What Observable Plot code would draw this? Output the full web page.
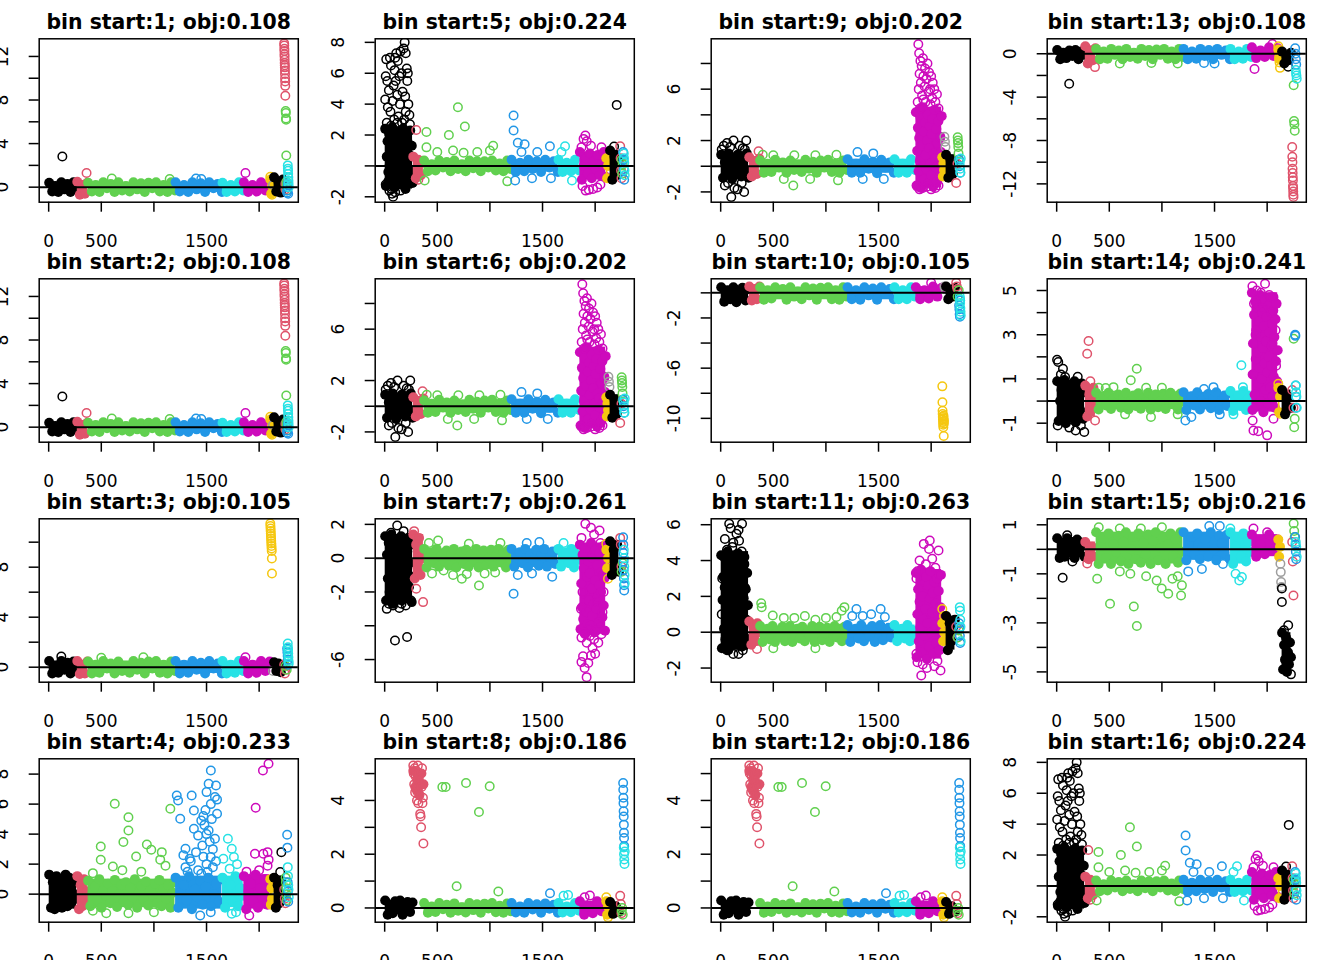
<!DOCTYPE html>
<html><head><meta charset="utf-8">
<script src="https://cdn.jsdelivr.net/npm/d3@7"></script>
<script src="https://cdn.jsdelivr.net/npm/@observablehq/plot@0.6"></script>
<style>
html,body{margin:0;padding:0;background:#fff;}
body{width:1344px;height:960px;overflow:hidden;position:relative;}
.cell{position:absolute;width:336px;height:240px;}
</style></head><body><div id="chart"></div>
<script>
// ---- shared series description (index order of the 13 coloured groups) ----
const segNames  = ["black 1","red 1","green 1","blue 1","cyan 1","magenta 1","yellow 1","gray 1","black 2","red 2","green 2","blue 2","cyan 2"];
const segColors = ["#000000","#DF536B","#61D04F","#2297E6","#28E2E5","#CD0BBC","#F5C710","#9E9E9E","#000000","#DF536B","#61D04F","#2297E6","#28E2E5"];
const segStart  = [5, 272, 375, 1206, 1652, 1855, 2106, 2126, 2142, 2238, 2252, 2266, 2272];
const segEnd    = [265, 368, 1200, 1646, 1848, 2100, 2122, 2136, 2226, 2250, 2262, 2276, 2281];
const xDomain   = [-90, 2372];
const xTicks    = [0, 500, 1000, 1500, 2000];
const xTickText = ["0", "500", "", "1500", ""];
const binStart  = [1,2,3,4,5,6,7,8,9,10,11,12,13,14,15,16];
const objValues = ["0.108","0.108","0.105","0.233","0.224","0.202","0.261","0.186","0.202","0.105","0.263","0.186","0.108","0.241","0.216","0.224"];

// ---- panel A (bin start 1 and 2) ----
const yDomA = [-1.38, 13.62];
const yTicksA = [0,2,4,6,8,10,12];
const yLabA = ["0","","4","","8","","12"];
const coreA = [
 [0.4,-0.4,0.1,-0.45,0.45,-0.2,0.3,-0.45,0.45,-0.1],
 [0.5,-0.7,0.2,-0.6,0.4],
 [0.4,-0.4,0.2,-0.45,0.45,-0.1,0.3,-0.45,0.45,-0.3,0.1,-0.4,0.45,-0.2,0.35,-0.45,0.4,-0.1,0.45,-0.4,0.2,-0.45,0.45,-0.3],
 [0.45,-0.4,0.2,-0.45,0.45,-0.2,0.35,-0.45,0.45,-0.1,0.3,-0.45],
 [0.4,-0.45,0.2,-0.4,0.45,-0.3],
 [0.45,-0.45,0.2,-0.4,0.45,-0.3,0.4],
 [0.7,-0.6,0.1],[],
 [0.9,-0.4,0.5,-0.5,0.7],
 [],[],[],[]];
const ringA = [[],[],[],[],[],[],[0.95,-0.7],[0.2],[],
 [13.2,13.0,12.7,12.5,12.2,12.0,11.7,11.4,11.2,11.0,10.7,10.4,10.0,9.7,9.3,8.4,0.3,-0.2],
 [7.0,6.8,6.3,6.2,2.9,0.5,0.2,-0.3],
 [-0.5,-0.3,0.0,0.3,-0.6],
 [2.0,1.7,1.5,1.2,0.9,0.6,0.3,0.0]];
const outA = [[0,130,2.82],[1,360,1.3],[2,600,0.8],[2,1150,0.75],[3,1400,0.8],[3,1450,0.75],[5,1870,1.3]];

// ---- panel B (bin start 3) ----
const yDomB = [-1.2, 11.87];
const yTicksB = [0,2,4,6,8,10];
const yLabB = ["0","","4","","8",""];
const coreB = [
 [0.5,-0.5,0.1,-0.45,0.5,-0.2,0.35,-0.5,0.45,-0.1],
 [0.5,-0.55,0.2,-0.5,0.45],
 [0.45,-0.5,0.2,-0.45,0.5,-0.1,0.3,-0.5,0.45,-0.3,0.1,-0.45,0.5,-0.2,0.35,-0.5,0.45,-0.1,0.5,-0.45,0.2,-0.5,0.45,-0.3],
 [0.5,-0.5,0.2,-0.45,0.5,-0.2,0.35,-0.5,0.5,-0.1,0.3,-0.5],
 [0.5,-0.5,0.2,-0.45,0.5,-0.3],
 [0.5,-0.5,0.2,-0.45,0.5,-0.3,0.45],
 [],[],
 [0.4,-0.3,0.3,-0.4,0.2],
 [],[],[],[]];
const ringB = [[],[],[],[],[],[],
 [11.5,11.3,11.1,10.9,10.7,10.5,10.3,10.1,9.9,9.7,9.5,9.3,8.7,7.5],
 [-0.3],[],
 [0.2,-0.5,-0.2],[0.1,-0.2],[1.5,1.2,0.9,0.6,0.2],[1.9,1.6,1.4,1.1,0.8,0.5,0.3]];
const outB = [[0,120,0.85],[2,500,0.75],[2,900,0.8],[5,1870,0.8]];

// ---- panel C (bin start 4) ----
const yDomC = [-1.87, 9.02];
const yTicksC = [0,2,4,6,8];
const yLabC = ["0","2","4","6","8"];
const coreC = [
 [1.3,-0.9,0.8,-1.0,1.2,-0.5,1.0,-0.9,0.4,1.3,-0.8,1.1,-0.6,0.9,0.0,-0.3],
 [1.2,-1.0,0.6,-0.8,1.0,-0.4,0.2],
 [0.9,-0.8,0.1,0.5,-0.4,1.0,-0.9,0.3,-0.1,0.7,-0.6,0.2,0.95,-0.85,0.0,0.6,-0.5,0.8,-0.7,0.4,-0.2,1.0,-0.9,0.15,0.55,-0.35,0.85,-0.75,0.25,-0.05,0.7,-0.6,0.95,-0.8,0.35,-0.3,0.6,-0.9,0.1,0.8],
 [1.1,-0.9,0.1,0.6,-0.4,1.2,-1.0,0.3,-0.2,0.9,-0.7,0.5,1.1,-0.8,0.0,0.7,-0.5,1.0],
 [1.1,-0.9,0.2,0.6,-0.5,1.2,-0.8,0.4,-0.1],
 [1.2,-1.0,0.2,0.7,-0.5,1.3,-0.9,0.4,-0.2,1.0,-0.7,0.6],
 [1.0,-0.7,0.4,-0.3],[],
 [1.1,-0.9,0.6,-0.6,0.9,-0.2],
 [],[],[],[]];
const ringC = [[],[],[],[],[],[],[],[],[],
 [0.3,-0.3,-0.6],[1.1,0.8,0.4,0,-0.4],[3.96,3.1,0.8,0.2,-0.5],[1.8,1.2,0.6,0.3,-0.2]];
const outC = [
 [2,628,6.02],[2,758,5.13],[2,758,4.24],[2,710,3.47],[2,495,3.18],[2,495,2.29],[2,610,1.84],[2,831,2.51],[2,933,3.31],[2,975,2.96],[2,1075,2.8],[2,1156,5.69],[2,1060,2.3],[2,1110,1.9],[2,700,1.6],[2,420,1.4],[2,880,1.5],[2,547,-1.27],[2,758,-1.27],[2,1000,-1.2],[2,420,-1.1],
 [3,1541,8.24],[3,1520,7.36],[3,1590,7.24],[3,1217,6.58],[3,1359,6.58],[3,1230,6.24],[3,1250,5.02],[3,1380,5.58],[3,1500,6.8],[3,1541,6.0],[3,1580,6.47],[3,1600,6.3],[3,1600,5.36],[3,1470,5.2],[3,1380,4.36],[3,1520,4.24],[3,1420,3.9],[3,1580,3.69],[3,1460,3.24],[3,1300,3.02],[3,1340,2.36],[3,1540,2.47],[3,1300,1.8],[3,1450,1.36],[3,1500,2.0],[3,1400,2.8],[3,1560,3.0],[3,1480,4.6],[3,1500,4.0],[3,1530,3.5],[3,1470,2.5],[3,1560,1.8],[3,1510,1.5],[3,1420,1.6],[3,1590,2.2],[3,1450,4.9],[3,1490,5.6],[3,1550,5.0],[3,1350,2.2],[3,1280,2.6],[3,1320,1.5],[3,1440,-1.42],[3,1540,-1.2],
 [4,1703,3.69],[4,1740,3.02],[4,1660,2.36],[4,1760,2.47],[4,1790,2.0],[4,1720,1.7],[4,1740,-1.3],[4,1780,-1.2],
 [5,2036,8.24],[5,2089,8.69],[5,1967,5.76],[5,1960,2.69],[5,2040,2.69],[5,2080,2.8],[5,2090,2.3],[5,2080,1.9],[5,1906,-1.42],[5,2000,1.6],[5,1880,1.5],
 [8,2211,2.8],[8,2200,1.47]];

// ---- panel D (bin start 5 and 16) ----
const yDomD = [-2.35, 8.23];
const yTicksD = [-2,0,2,4,6,8];
const yLabD = ["-2","","2","4","6","8"];
const coreD = [
 [2.4,-1.3,0.6,1.6,-0.4,2.1,0.1,-1.0,1.2,2.5,-0.2,0.8,-1.4,1.9,0.3,-0.8,1.4,2.2,-0.1,0.9,-1.2,1.7,0.4,2.4,-0.6,1.1,-1.5,2.0,0.0,1.5,-0.9,0.7,2.3,-0.3,1.3,-1.1],
 [0.6,-0.8,0.4,-0.6,0.2],
 [0.35,-0.35,0.1,-0.3,0.35,-0.1,0.25,-0.35,0.35,-0.2,0.1,-0.35,0.35,-0.15,0.3,-0.35,0.3,-0.1,0.35,-0.3,0.15,-0.35,0.35,-0.2],
 [0.4,-0.4,0.2,-0.35,0.4,-0.2,0.3,-0.4,0.4,-0.1,0.3,-0.4],
 [0.4,-0.4,0.2,-0.35,0.4,-0.3],
 [0.9,-0.9,0.0,0.5,-0.5,0.8,-0.8,0.3,-0.2,0.7,-0.6,0.1,0.9,-0.7],
 [0.5,-0.8,0.0],[],
 [1.0,-0.9,0.6,-0.6,0.3],
 [],[],[],[]];
const ringD = [[],[],[],[],[],[],[],[],[],
 [1.27,0.5,-0.3,-0.8],[0.4,-0.5,0.1],[0.9,0.4,-0.2,-0.9],[0.8,0.5,0.2,-0.3,-0.6]];
const outD = [
 [0,10,5.8],[0,15,6.9],[0,25,5.5],[0,30,3.8],[0,20,2.8],[0,40,4.9],[0,50,7.0],[0,60,6.5],[0,70,-1.8],[0,80,-2.0],[0,55,3.5],[0,75,4.2],[0,85,5.2],[0,95,6.2],[0,100,7.0],[0,110,7.3],[0,120,4.6],[0,130,3.2],[0,140,5.8],[0,150,7.4],[0,160,6.0],[0,170,4.8],[0,180,7.6],[0,190,8.0],[0,200,7.3],[0,210,6.3],[0,220,6.0],[0,225,4.0],[0,215,5.5],[0,200,3.5],[0,185,3.0],[0,165,2.8],[0,145,4.0],[0,125,6.8],[0,105,5.5],[0,90,3.0],[0,65,-1.5],[0,45,-1.6],[0,35,-1.0],[0,240,2.7],[0,250,-1.0],[0,5,4.3],[0,195,4.5],[0,235,3.3],[0,10,-1.2],[0,100,-1.7],[0,150,-1.6],[0,120,2.8],[0,60,2.6],
 [1,300,2.33],[1,320,-0.9],
 [2,397,2.2],[2,397,1.2],[2,610,2.0],[2,696,3.8],[2,762,2.55],[2,1031,1.3],[2,650,1.0],[2,880,0.9],[2,500,0.9],[2,380,-0.95],[2,1165,-1.0],[2,1000,1.0],[2,750,0.85],
 [3,1225,3.26],[3,1225,2.29],[3,1265,1.5],[3,1330,1.4],[3,1570,1.27],[3,1300,0.9],[3,1450,0.9],[3,1240,-0.95],[3,1400,-0.8],[3,1580,-0.8],
 [4,1714,1.27],[4,1780,-0.95],[4,1680,0.9],
 [5,1907,1.97],[5,1890,1.75],[5,1920,1.6],[5,1870,1.2],[5,1880,-1.3],[5,1910,-1.6],[5,1940,-1.55],[5,1980,-1.5],[5,2020,-1.4],[5,2060,1.2],[5,2050,-1.2],[5,1960,1.3],
 [8,2205,3.95],[8,2180,1.25]];

// ---- panel E (bin start 6 and 9) ----
const yDomE = [-2.8, 9.92];
const yTicksE = [-2,0,2,4,6,8];
const yLabE = ["-2","","2","","6",""];
const coreE = [
 [0.9,-0.9,0.3,-0.4,1.0,0.0,-1.0,0.6,-0.6,0.9,0.2,-0.8,0.5,-0.3,1.0,-0.9],
 [0.7,-0.8,0.4,-0.6,0.6],
 [0.45,-0.5,0.2,-0.45,0.5,-0.1,0.3,-0.5,0.45,-0.3,0.1,-0.45,0.5,-0.2,0.35,-0.5,0.45,-0.1,0.5,-0.45,0.2,-0.5,0.45,-0.3],
 [0.55,-0.5,0.2,-0.5,0.55,-0.2,0.35,-0.55,0.5,-0.1,0.3,-0.5],
 [0.55,-0.5,0.2,-0.5,0.55,-0.3],
 [4.2,-1.5,1.2,3.0,-0.4,2.2,0.4,3.8,-1.7,1.6,4.6,0.0,2.7,-1.0,3.4,0.9,-0.2,2.0,4.0,-1.3,1.4,3.1,0.2,-0.7,2.5,3.7,-1.6,1.0,4.4,0.6,-0.1,2.9,-1.2,1.8,3.5,0.3,-0.8,2.3,1.1,3.9],
 [0.7,-0.8,0.2,-0.3],[],
 [0.9,-0.9,0.5,-0.6,0.2],
 [],[],[],[]];
const ringE = [[],[],[],[],[],[],[],[2.3,1.9,1.5],[],
 [-1.3,0.2],[2.26,2.0,1.8,1.5,1.0,0.5],[0.5,0,-0.5],[0.3,-0.2,-0.5,0.6]];
const outE = [
 [0,122,2.0],[0,243,2.0],[0,30,1.6],[0,60,1.8],[0,90,1.5],[0,180,1.6],[0,210,1.4],[0,101,-2.4],[0,223,-2.0],[0,160,-1.8],[0,40,-1.5],[0,130,-1.7],[0,200,-1.3],[0,10,1.3],[0,230,1.3],[0,70,-1.3],
 [1,360,1.17],
 [2,690,-1.5],[2,1115,-1.1],[2,500,0.85],[2,700,0.85],[2,900,0.85],[2,1100,0.9],[2,400,0.9],[2,600,-1.0],[2,850,-1.0],
 [3,1300,1.1],[3,1450,1.0],[3,1550,-1.0],[3,1350,-1.0],
 [5,1872,5.0],[5,1878,9.5],[5,1882,6.0],[5,1886,8.8],[5,1890,7.2],[5,1894,4.5],[5,1898,8.2],[5,1902,6.5],[5,1910,7.8],[5,1914,5.5],[5,1922,8.4],[5,1926,7.0],[5,1938,6.2],[5,1942,7.6],[5,1946,5.0],[5,1955,6.8],[5,1965,8.0],[5,1975,5.8],[5,1980,7.3],[5,1990,6.0],[5,1995,4.8],[5,2000,7.0],[5,2010,5.3],[5,2015,6.5],[5,2030,6.0],[5,2040,5.0],[5,2055,5.6],[5,2070,4.5],[5,1925,5.2],[5,1870,-1.6],[5,1890,-1.8],[5,1920,-1.7],[5,1960,-1.6],[5,2000,-1.8],[5,2040,-1.7],[5,2070,-1.5],[5,2085,2.2],[5,2090,0.5]];

// ---- panel F (bin start 7) ----
const yDomF = [-7.34, 2.33];
const yTicksF = [-6,-4,-2,0,2];
const yLabF = ["-6","","-2","0","2"];
const coreF = [
 [1.3,-2.5,0.2,-1.2,0.9,-2.0,-0.4,1.4,-1.6,-2.7,0.5,-0.8,1.1,-2.2,-0.1,0.7,-1.9,-1.0,1.3,-2.5,0.1,-0.6,1.0,-1.4,-2.3,0.4,1.2,-1.7,-0.3,0.8,-2.6,-1.1],
 [1.4,-1.2,0.8,-0.6,1.2,-1.0,0.3,0.0],
 [0.55,-0.55,0.0,0.35,-0.3,0.55,-0.5,0.15,-0.15,0.45,-0.45,0.25,0.55,-0.55,0.05,0.4,-0.35,0.5,-0.5,0.2,-0.1,0.55,-0.55,0.3,0.45,-0.4,0.0,0.5,-0.5,0.15,0.55,-0.25,0.35,-0.55,0.5,-0.05],
 [0.55,-0.5,0.0,0.35,-0.3,0.55,-0.55,0.2,-0.1,0.5,-0.45,0.25,0.55,-0.5,0.05,0.4,-0.35,0.5],
 [0.55,-0.5,0.1,0.35,-0.3,0.55,-0.55,0.2,-0.1],
 [0.8,-4.2,-1.5,-2.9,0.2,-3.6,-0.6,-2.1,-4.5,0.6,-3.2,-1.1,-3.9,-0.2,-2.5,-0.9,-4.0,0.9,-1.8,-3.4,0.0,-2.7,-4.4,-1.3,0.5,-3.0,-0.4,-2.3,-3.8,-1.6,0.3,-4.1,-2.0,-0.8,-3.5,0.7,-2.8,-1.2,-4.3,-0.1],
 [0.5,-0.6,0.0],[],
 [1.0,-1.0,0.5,-0.5,0.8,-0.8],
 [],[],[],[]];
const ringF = [[],[],[],[],[],[],[0.85,-1.22],[],[],
 [1.2,0.8,-0.5],[-0.8,-0.3],[1.24,0.8,0.3,-0.2,-0.7,-1.2,-1.6,-1.91],[0.5,0,-0.5,-1.0,-1.5]];
const outF = [
 [0,119,1.93],[0,20,-3.0],[0,140,-2.95],[0,98,-4.87],[0,213,-4.67],[0,60,1.5],[0,180,1.6],[0,200,-2.8],[0,80,-2.8],[0,250,-2.5],[0,40,-2.7],[0,160,-2.7],
 [1,300,-1.81],[1,365,-2.6],[1,280,1.6],
 [2,508,1.05],[2,560,-0.73],[2,733,-1.22],[2,896,-1.62],[2,650,-1.0],[2,780,-0.93],[2,950,-0.9],[2,1050,-0.85],[2,420,0.9],[2,800,0.85],[2,1100,0.9],[2,450,-0.9],
 [3,1225,-2.11],[3,1265,-1.0],[3,1592,-1.1],[3,1470,0.95],[3,1350,0.9],[3,1400,-0.9],
 [4,1700,0.9],
 [5,1907,2.03],[5,1960,1.8],[5,2042,1.64],[5,1990,1.4],[5,1919,-7.04],[5,1870,-6.15],[5,1960,-5.76],[5,2000,-5.66],[5,2030,-5.0],[5,1900,-6.5],[5,1885,-5.8],[5,1935,-6.2],[5,1870,-4.7],[5,2060,-4.5],[5,1990,-4.8],[5,1920,-5.0],[5,2070,-3.2],[5,2080,-2.0],[5,1865,-3.0],[5,2075,-1.0],[5,1870,1.2],[5,2010,-4.3],[5,1950,-4.6],[5,1975,-5.3],[5,1940,-4.2],[5,2040,-3.8],[5,1895,-4.4],[5,2020,-2.6],[5,1880,-2.0],[5,2050,0.9]];

// ---- panel G (bin start 8 and 12) ----
const yDomG = [-0.53, 5.55];
const yTicksG = [0,1,2,3,4,5];
const yLabG = ["0","","2","","4",""];
const coreG = [
 [0.28,-0.25,0.1,-0.2,0.25,-0.05,0.28,-0.25,0.05,0.22,-0.15,0.2],
 [5.1,4.5,4.8,4.2,5.0,4.6],
 [0.18,-0.18,0.05,-0.15,0.18,-0.05,0.12,-0.18,0.17,-0.1,0.03,-0.17,0.18,-0.08,0.14,-0.18,0.16,-0.02,0.18,-0.16,0.08,-0.18,0.17,-0.12],
 [0.18,-0.17,0.05,-0.18,0.18,-0.06,0.14,-0.18,0.17,-0.03,0.12,-0.18],
 [0.18,-0.17,0.05,-0.16,0.18,-0.1],
 [0.25,-0.25,0.05,-0.2,0.25,-0.12,0.2],
 [0.25,-0.25,0.05],[],
 [0.22,-0.22,0.05,-0.15],
 [],[],[],[]];
const ringG = [[],
 [5.3,5.0,4.6,5.2,4.3,4.9,5.1,4.4,4.0,4.7,5.3,3.9,4.8,4.2,5.0,3.5,3.4,3.0,4.5,5.2,3.9,4.1,2.4],
 [],[],[],[],[0.4,-0.35],[],[],
 [0.45,0.15,-0.2],[-0.1,0.0,-0.25],[4.65,4.4,4.1,3.9,3.6,3.4,3.1,2.8,2.6,2.3],[2.25,2.0,1.8,1.64,2.1]];
const outG = [[2,548,4.5],[2,580,4.5],[2,773,4.65],[2,998,4.53],[2,896,3.57],[2,684,0.81],[2,1080,0.61],
 [3,1571,0.55],[4,1743,0.48],[4,1700,0.45],[5,1950,0.46],[5,1900,0.4]];

// ---- panel H (bin start 10) ----
const yDomH = [-11.9, 1.12];
const yTicksH = [-10,-8,-6,-4,-2,0];
const yLabH = ["-10","","-6","","-2",""];
const coreH = [
 [0.45,-0.7,0.2,-0.5,0.45,-0.75,0.1,0.4,-0.6,0.3],
 [0.5,-0.6,0.3,-0.5,0.5],
 [0.45,-0.55,0.2,-0.45,0.45,-0.1,0.3,-0.55,0.45,-0.3,0.1,-0.5,0.45,-0.2,0.35,-0.55,0.4,-0.1,0.45,-0.5,0.2,-0.55,0.45,-0.3],
 [0.45,-0.5,0.2,-0.55,0.45,-0.2,0.35,-0.55,0.45,-0.1,0.3,-0.5],
 [0.45,-0.5,0.2,-0.5,0.45,-0.3],
 [0.45,-0.5,0.2,-0.45,0.5,-0.3,0.4],
 [],[],
 [0.5,-0.5,0.2,-0.3,0.4],
 [],[],[],[]];
const ringH = [[],[],[],[],[],[],
 [-7.45,-8.72,-9.39,-9.65,-9.9,-10.1,-10.3,-10.5,-10.7,-9.8,-10.0,-11.4,-10.4,-10.2],
 [0.5,0.3],[],
 [0.8,0.5,0.3],[-0.3,0.2],[-1.0,-1.3,-1.7,-1.9,-0.6],[-0.3,-0.5,-0.8,-1.2,-1.5,-1.8]];
const outH = [[5,2000,0.8]];

// ---- panel I (bin start 11) ----
const yDomI = [-2.79, 6.33];
const yTicksI = [-2,0,2,4,6];
const yLabI = ["-2","0","2","4","6"];
const coreI = [
 [4.3,-0.9,1.8,3.1,0.2,2.5,-0.4,3.8,1.0,4.5,-1.0,2.0,0.6,3.4,-0.2,2.8,1.4,4.1,-0.7,2.2,0.9,3.6,0.0,1.6,4.4,-0.5,2.7,1.2,3.9,0.4,-0.8,3.0,1.9,4.2,-0.3,2.4,0.7,3.3,1.5,-0.6],
 [0.6,-0.7,0.3,-0.5,0.5,0.0],
 [0.35,-0.55,-0.1,0.2,-0.4,0.35,-0.55,0.05,-0.25,0.3,-0.5,0.1,0.35,-0.55,-0.15,0.2,-0.35,0.3,-0.5,0.0,-0.2,0.35,-0.55,0.15,0.3,-0.45,-0.05,0.25,-0.55,0.1,0.35,-0.3,0.2,-0.5,0.3,-0.1],
 [0.4,-0.55,-0.05,0.2,-0.35,0.4,-0.5,0.1,-0.2,0.35,-0.55,0.15,0.4,-0.45,0.0,0.25,-0.3,0.35],
 [0.4,-0.5,0.0,0.2,-0.35,0.4,-0.5,0.1,-0.2],
 [3.3,-1.4,1.0,2.4,-0.5,1.7,0.3,3.5,-1.1,2.0,0.7,2.9,-0.2,1.3,3.1,-1.5,0.5,2.6,-0.8,1.9,3.4,0.0,1.1,2.2,-1.2,2.8,0.4,1.6,-0.6,3.0,0.9,2.3,-1.0,1.4,3.2,0.1],
 [0.5,-0.5,0.0],[],
 [0.9,-1.0,0.5,-0.5,0.2,0.7],
 [],[],[],[]];
const ringI = [[],[],[],[],[],[],[1.3,0.9],[],[],
 [0.3,-0.3],[-0.3,0.1],[0.5,0.2,-0.2,-0.6],[1.4,1.2,0.7,0.3,-0.5]];
const outI = [
 [0,81,6.05],[0,203,6.05],[0,150,5.5],[0,120,5.0],[0,175,5.1],[0,110,4.75],[0,60,4.6],[0,30,4.2],[0,200,4.5],[0,225,3.8],[0,230,2.5],[0,15,3.0],[0,40,5.2],[0,95,5.8],[0,170,5.7],[0,220,1.5],[0,10,1.0],[0,120,-1.21],[0,170,-1.21],[0,60,-1.0],[0,210,-1.0],[0,30,-0.9],
 [1,345,-0.93],
 [2,385,1.62],[2,390,1.4],[2,495,0.93],[2,1176,1.4],[2,1150,1.2],[2,700,0.8],[2,800,0.9],[2,600,0.8],[2,900,0.7],[2,1000,0.8],[2,1100,0.85],[2,900,-0.9],[2,500,-0.9],
 [3,1290,1.3],[3,1520,1.3],[3,1430,1.0],[3,1350,0.9],[3,1560,0.85],[3,1250,0.9],
 [5,1987,5.12],[5,1930,4.93],[5,1980,4.65],[5,2070,4.56],[5,1890,4.0],[5,1950,3.8],[5,2040,3.6],[5,1870,3.4],[5,2010,4.1],[5,2080,3.2],[5,1860,3.0],[5,1906,-2.42],[5,1870,-1.68],[5,2089,-2.14],[5,1960,-2.0],[5,2030,-1.9],[5,2060,-1.6],[5,1860,-1.2],[5,1920,-1.8]];

// ---- panel J (bin start 13) ----
const yDomJ = [-13.69, 1.38];
const yTicksJ = [-12,-10,-8,-6,-4,-2,0];
const yLabJ = ["-12","","-8","","-4","","0"];
const coreJ = [
 [0.35,-0.5,0.1,-0.4,0.3,-0.2,0.35,-0.5,0.2,-0.1],
 [0.7,-0.9,0.3,-0.6,0.5],
 [0.45,-0.5,0.2,-0.45,0.45,-0.1,0.3,-0.5,0.45,-0.3,0.1,-0.45,0.45,-0.2,0.35,-0.5,0.4,-0.1,0.45,-0.45,0.2,-0.5,0.45,-0.3],
 [0.45,-0.5,0.2,-0.45,0.45,-0.2,0.35,-0.5,0.45,-0.1,0.3,-0.5],
 [0.45,-0.5,0.2,-0.45,0.45,-0.3],
 [0.6,-0.4,0.3,-0.3,0.6,-0.2,0.5],
 [0.4,-0.5,0.0],[],
 [0.2,-0.9,-0.3,-0.6,0.1],
 [],[],[],[]];
const ringJ = [[],[],[],[],[],[],[0.7,0.3,-0.3,-0.8,-1.3],[],[],
 [-8.6,-9.5,-10.0,-10.6,-11.0,-11.4,-11.7,-12.2,-12.4,-12.7,-13.0,-13.2],
 [-2.9,-6.2,-6.5,-7.1],[0.5,0,-0.5,-1.0],[-1.5,-1.8,-2.0,-2.3]];
const outJ = [[0,119,-2.77],[1,364,-1.23],[2,600,-0.9],[2,900,-0.85],[2,1150,-0.9],[3,1400,-0.85],[3,1500,-0.9],[5,1880,-1.4],[5,2050,0.9],[8,2200,-1.2]];

// ---- panel K (bin start 14) ----
const yDomK = [-1.86, 5.53];
const yTicksK = [-1,0,1,2,3,4,5];
const yLabK = ["-1","","1","","3","","5"];
const coreK = [
 [0.9,-0.9,0.0,0.5,-0.5,0.95,-1.0,0.3,-0.2,0.7,-0.7,0.2,0.9,-0.95,0.1,0.6,-0.4,0.8,-0.8,0.4],
 [0.7,-0.7,0.3,-0.4,0.6,0.0],
 [0.38,-0.38,0.0,0.22,-0.2,0.38,-0.36,0.1,-0.1,0.3,-0.3,0.15,0.38,-0.38,0.02,0.25,-0.22,0.35,-0.35,0.12,-0.05,0.38,-0.38,0.2,0.3,-0.28,0.0,0.33,-0.36,0.1,0.38,-0.15,0.22,-0.38,0.34,-0.02],
 [0.4,-0.4,0.0,0.22,-0.2,0.4,-0.38,0.1,-0.1,0.32,-0.32,0.15,0.4,-0.4,0.03,0.25,-0.22,0.36],
 [0.45,-0.45,0.05,0.25,-0.22,0.45,-0.4,0.15,-0.1],
 [4.9,-0.4,2.6,1.2,3.9,0.3,4.5,1.9,3.2,-0.2,2.2,4.2,0.8,3.6,1.5,4.8,0.0,2.9,1.0,4.0,2.4,-0.5,3.4,1.7,4.6,0.5,2.7,3.8,1.3,-0.1,4.3,2.0,3.1,0.6,4.7,1.6,2.5,3.5,0.2,4.1,1.1,2.9,-0.3,3.7,1.8,4.4,0.9,2.3],
 [0.6,-0.5,0.2],[],
 [0.5,-0.6,0.2,-0.3],
 [],[],[],[]];
const ringK = [[],[],[],[],[],[],[0.78,-0.57],[],[],
 [0.5,-0.3],[2.82,-1.18,-0.8],[3.0,2.95,0.7,0.2,-0.3],[0.7,0.4,0.2,-0.3]];
const outK = [
 [0,4,1.87],[0,15,1.77],[0,60,1.46],[0,80,1.09],[0,10,-1.1],[0,262,-1.4],[0,180,-1.33],[0,120,-1.2],[0,40,1.2],[0,200,1.1],[0,230,-1.1],
 [1,303,2.72],[1,290,2.14],[1,320,0.9],[1,365,-0.88],
 [2,761,1.46],[2,704,0.94],[2,466,0.59],[2,896,-0.72],[2,540,0.63],[2,850,0.6],[2,1000,0.6],[2,650,-0.6],[2,1150,-0.6],[2,400,0.6],
 [3,1223,-0.88],[3,1280,-0.72],[3,1490,0.63],[3,1400,0.55],[3,1550,-0.6],
 [4,1755,1.62],[4,1770,0.63],[4,1680,-0.6],
 [5,1860,5.19],[5,1980,5.31],[5,1900,5.0],[5,1940,4.9],[5,2020,4.8],[5,2060,4.7],[5,1875,4.4],[5,1960,4.2],[5,2040,4.0],[5,2080,3.2],[5,1890,3.0],[5,2050,2.6],[5,2085,1.6],[5,1862,1.2],[5,1870,-1.33],[5,1915,-1.36],[5,2000,-1.55],[5,1862,-0.88],[5,2060,-0.8]];

// ---- panel L (bin start 15) ----
const yDomL = [-5.42, 1.245];
const yTicksL = [-5,-4,-3,-2,-1,0,1];
const yLabL = ["-5","","-3","","-1","","1"];
const coreL = [
 [0.45,-0.35,0.2,-0.3,0.45,-0.1,0.3,-0.35,0.4,0.0,0.2,-0.3],
 [0.3,-0.4,0.1,-0.3],
 [0.7,-0.6,0.1,0.45,-0.35,0.65,-0.6,0.2,-0.1,0.55,-0.5,0.3,0.7,-0.6,0.0,0.5,-0.4,0.65,-0.55,0.25,-0.2,0.6,-0.6,0.35,0.7,-0.45,0.05,0.5,-0.6,0.2,0.65,-0.3,0.4,-0.55,0.7,-0.1],
 [0.7,-0.45,0.2,0.5,-0.2,0.65,-0.4,0.1,0.4,-0.3,0.7,0.0,-0.45,0.55,0.25,-0.15,0.6,-0.4],
 [0.7,-0.6,0.1,0.5,-0.3,0.65,-0.5,0.3,-0.1],
 [0.6,-0.3,0.2,-0.2,0.6,0.0,0.4],
 [0.4,-0.3,0.1],[],
 [-3.4,-4.9,-3.9,-4.5,-3.6,-5.0,-4.2,-4.7,-3.8,-4.4],
 [],[],[],[]];
const ringL = [[],[],[],[],[],[],[],[-0.59,-0.93,-1.33,-1.54],[],
 [0.3,-0.5,-1.88],[1.05,0.75,0.5],[0.5,0.2,-0.1,-0.4],[0.3,0.1,-0.3]];
const outL = [
 [0,57,-1.16],[0,100,0.57],[0,150,-0.5],
 [1,290,-0.58],
 [2,385,-1.2],[2,507,-2.22],[2,733,-2.33],[2,762,-3.13],[2,998,-1.6],[2,1060,-1.81],[2,1182,-1.88],[2,1190,-1.47],[2,950,-1.27],[2,600,-0.9],[2,700,-1.0],[2,850,-1.1],[2,1100,-1.2],[2,1150,-1.1],[2,400,0.9],[2,600,0.85],[2,1000,0.9],[2,800,0.85],
 [3,1250,-0.9],[3,1450,0.95],[3,1550,0.95],[3,1380,-0.8],[3,1580,-0.6],
 [4,1735,-1.27],[4,1760,-1.13],[4,1700,-1.0],[4,1650,0.85],
 [5,1870,0.85],[5,2000,0.7],
 [8,2140,-1.6],[8,2140,-2.15],[8,2200,-3.1],[8,2160,-3.3],[8,2226,-5.1]];

// table of the 12 distinct panels, then the 16 panels in order of bin start
const panelA = {dom: yDomA, ticks: yTicksA, labs: yLabA, core: coreA, ring: ringA, out: outA};
const panelB = {dom: yDomB, ticks: yTicksB, labs: yLabB, core: coreB, ring: ringB, out: outB};
const panelC = {dom: yDomC, ticks: yTicksC, labs: yLabC, core: coreC, ring: ringC, out: outC};
const panelD = {dom: yDomD, ticks: yTicksD, labs: yLabD, core: coreD, ring: ringD, out: outD};
const panelE = {dom: yDomE, ticks: yTicksE, labs: yLabE, core: coreE, ring: ringE, out: outE};
const panelF = {dom: yDomF, ticks: yTicksF, labs: yLabF, core: coreF, ring: ringF, out: outF};
const panelG = {dom: yDomG, ticks: yTicksG, labs: yLabG, core: coreG, ring: ringG, out: outG};
const panelH = {dom: yDomH, ticks: yTicksH, labs: yLabH, core: coreH, ring: ringH, out: outH};
const panelI = {dom: yDomI, ticks: yTicksI, labs: yLabI, core: coreI, ring: ringI, out: outI};
const panelJ = {dom: yDomJ, ticks: yTicksJ, labs: yLabJ, core: coreJ, ring: ringJ, out: outJ};
const panelK = {dom: yDomK, ticks: yTicksK, labs: yLabK, core: coreK, ring: ringK, out: outK};
const panelL = {dom: yDomL, ticks: yTicksL, labs: yLabL, core: coreL, ring: ringL, out: outL};
const panelByBin = [panelA, panelA, panelB, panelC, panelD, panelE, panelF, panelG,
                    panelE, panelH, panelI, panelG, panelJ, panelK, panelL, panelD];

function spread(s, ys) {
  const a = segStart[s], b = segEnd[s], n = ys.length;
  return ys.map((y, i) => ({x: n > 1 ? a + (b - a) * i / (n - 1) : (a + b) / 2, y}));
}

const chart = document.getElementById("chart");
panelByBin.forEach((P, k) => {
  const col = Math.floor(k / 4), row = k % 4;
  const marks = [];
  for (let s = 0; s < segNames.length; s++) {
    const c = segColors[s];
    const ys = P.core[s];
    const core = spread(s, ys);
    const ring = spread(s, P.ring[s]).concat(P.out.filter(d => d[0] === s).map(d => ({x: d[1], y: d[2]})));
    if (ys.length > 1) {
      // the densely over-plotted mass of this group: from its lowest to its highest core value
      marks.push(Plot.rect([{x1: segStart[s], x2: segEnd[s], y1: d3.min(ys), y2: d3.max(ys)}],
        {x1: "x1", x2: "x2", y1: "y1", y2: "y2", fill: c, clip: true}));
    }
    if (core.length) marks.push(Plot.dot(core, {x: "x", y: "y", r: 5, fill: c, stroke: "none", clip: true}));
    if (ring.length) marks.push(Plot.dot(ring, {x: "x", y: "y", r: 4.25, fill: "none", stroke: c, strokeWidth: 1.5, clip: true}));
  }
  marks.push(Plot.ruleY([0], {stroke: "black", strokeWidth: 2}));
  marks.push(Plot.frame({stroke: "black", strokeWidth: 1.5}));
  marks.push(Plot.axisX(xTicks, {label: null, tickSize: 10, tickPadding: 23, strokeWidth: 1.5, fontSize: 17,
    tickFormat: d => xTickText[xTicks.indexOf(d)]}));
  marks.push(Plot.axisY(P.ticks, {label: null, tickSize: 10, strokeWidth: 1.5, tickFormat: () => ""}));
  marks.push(Plot.text(P.ticks, {y: d => d, text: (d, i) => P.labs[i], frameAnchor: "left", dx: -36.5,
    rotate: -90, textAnchor: "middle", lineAnchor: "middle", fontSize: 17}));
  marks.push(Plot.text([`bin start:${binStart[k]}; obj:${objValues[k]}`], {frameAnchor: "top", dy: -10,
    lineAnchor: "bottom", fontWeight: "bold", fontSize: 20.4}));
  const svg = Plot.plot({
    width: 336, height: 240,
    marginTop: 38.3, marginBottom: 38.3, marginLeft: 38.7, marginRight: 38.2,
    x: {domain: xDomain},
    y: {domain: P.dom},
    style: {background: "transparent", overflow: "visible", fontFamily: "DejaVu Sans", fontSize: "17px", color: "black"},
    marks
  });
  const div = document.createElement("div");
  div.className = "cell";
  div.style.left = (col * 336) + "px";
  div.style.top = (row * 240) + "px";
  div.appendChild(svg);
  chart.appendChild(div);
});
</script>
</body></html>
